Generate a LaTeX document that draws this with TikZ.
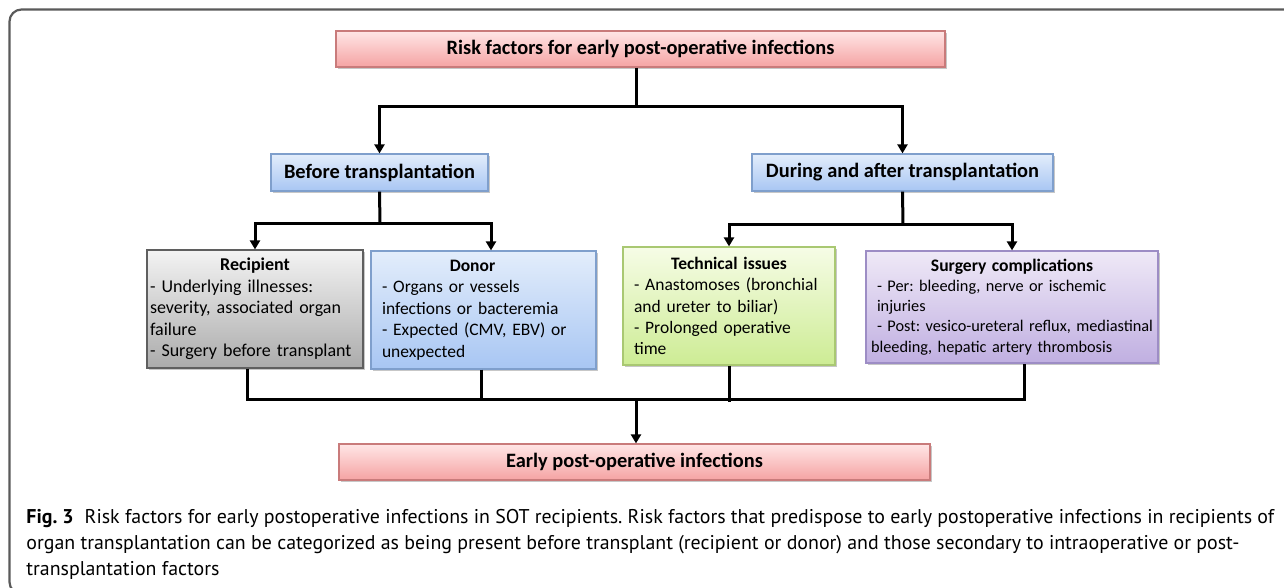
\documentclass[tikz,border=0pt]{standalone}
\usepackage{fontspec}
\setmainfont{Carlito}
\newfontfamily\capfont{PT Sans}
\usetikzlibrary{arrows.meta,shadows}
\definecolor{pinkT}{HTML}{FFE6E6}
\definecolor{pinkB}{HTML}{F5A3A3}
\definecolor{pinkD}{HTML}{C97B7B}
\definecolor{blueT}{HTML}{E3EDFB}
\definecolor{blueB}{HTML}{A8C6F3}
\definecolor{blueD}{HTML}{7F9FCC}
\definecolor{grayT}{HTML}{F3F3F3}
\definecolor{grayB}{HTML}{ABABAB}
\definecolor{grayD}{HTML}{5F5F5F}
\definecolor{greenT}{HTML}{F6FCE6}
\definecolor{greenB}{HTML}{CDEC94}
\definecolor{greenD}{HTML}{A9C872}
\definecolor{purpT}{HTML}{EFE9F7}
\definecolor{purpB}{HTML}{C0AFE1}
\definecolor{purpD}{HTML}{9D8DC5}
\definecolor{frameC}{HTML}{5A5A5A}
\begin{document}
\frenchspacing
\hyphenpenalty=10000
\exhyphenpenalty=10000
\begin{tikzpicture}[x=0.5pt,y=-0.5pt,
  box/.style={draw, line width=0.6pt, inner sep=0pt,
    drop shadow={shadow xshift=1pt, shadow yshift=-1pt, fill=black, opacity=0.22}},
  titlebox/.style={box, font=\fontsize{10.2pt}{12pt}\selectfont\bfseries},
  listbox/.style={box, align=left, anchor=center},
  pinkbox/.style={titlebox, draw=pinkD, top color=pinkT, bottom color=pinkB},
  bluebox/.style={titlebox, draw=blueD, top color=blueT, bottom color=blueB},
  link/.style={line width=1.5pt, draw=black},
  arrow/.style={link, -{Triangle[width=5pt,length=4.5pt]}}
]
\useasboundingbox (0,0) rectangle (1284,588);
\fill[white] (0,0) rectangle (1284,588);
% frame
\draw[frameC, line width=1.1pt, rounded corners=6pt] (1300,9.5) -- (9.5,9.5) -- (9.5,594) -- (200,594);

% title boxes
\node[pinkbox, minimum width=304.5pt, minimum height=18pt] (top) at (640.5,49) {Risk factors for early post-operative infections};
\node[bluebox, minimum width=108.5pt, minimum height=18.5pt] (before) at (379.5,172.5) {Before transplantation};
\node[bluebox, minimum width=150.5pt, minimum height=18.5pt] (during) at (902.5,172.5) {During and after transplantation};
\node[pinkbox, minimum width=295.5pt, minimum height=18pt] (early) at (634.5,462) {Early post-operative infections};

% list boxes
\node[listbox, draw=grayD, top color=grayT, bottom color=grayB, font=\fontsize{9pt}{10.75pt}\selectfont,
  inner xsep=1.5pt, text width=105pt, minimum height=59pt] (recipient) at (255,309)
  {\makebox[\linewidth][c]{\bfseries Recipient}\\- Underlying illnesses:\\severity, associated organ\\failure\\- Surgery before transplant};
\node[listbox, draw=blueD, top color=blueT, bottom color=blueB, font=\fontsize{8.75pt}{10.75pt}\selectfont,
  inner xsep=5.5pt, text width=101.5pt, minimum height=59pt] (donor) at (483.5,310)
  {\makebox[\linewidth][c]{\hspace{-11pt}\bfseries Donor}\\- Organs or vessels\\infections or bacteremia\\- Expected (CMV, EBV) or\\unexpected};
\node[listbox, draw=greenD, top color=greenT, bottom color=greenB, font=\fontsize{8.75pt}{10.6pt}\selectfont,
  inner xsep=5.5pt, text width=95pt, minimum height=59pt] (technical) at (729,306)
  {\makebox[\linewidth][c]{\bfseries Technical issues}\\- Anastomoses (bronchial\\and ureter to biliar)\\- Prolonged operative\\time};
\node[listbox, draw=purpD, top color=purpT, bottom color=purpB, font=\fontsize{8.15pt}{10.1pt}\selectfont,
  inner xsep=2.5pt, text width=141pt, minimum height=56pt] (surgery) at (1012,307)
  {\leftskip=3pt\makebox[\dimexpr\linewidth-6pt][c]{\fontsize{8.8pt}{10.1pt}\selectfont\bfseries Surgery complications}\\- Per: bleeding, nerve or ischemic\\injuries\\- Post: vesico-ureteral reflux, mediastinal\\bleeding, hepatic artery thrombosis};

% connectors
\coordinate (jtop) at (636,107);
\draw[link] ([xshift=-2.25pt]top.south) -- (jtop);
\draw[arrow] (jtop) -| (before.north);
\draw[arrow] (jtop) -| (during.north);

\coordinate (jbef) at (380,224);
\draw[link] (before.south) -- (jbef);
\draw[arrow] (jbef) -| (recipient.north);
\draw[arrow] (jbef) -| ([xshift=3.75pt]donor.north);

\coordinate (jdur) at (903,225);
\draw[link] (during.south) -- (jdur);
\draw[arrow] (jdur) -| (technical.north);
\draw[arrow] (jdur) -| (surgery.north);

\coordinate (jbot) at (636,399);
\draw[link] ([xshift=-4pt]recipient.south) |- (jbot) -| ([xshift=6pt]surgery.south);
\draw[link] ([xshift=-1.25pt]donor.south) -- ([xshift=-1.25pt]donor.south |- jbot);
\draw[link] (technical.south) -- ([yshift=-1.5pt]technical.south |- jbot);
\draw[arrow] (jbot) -- (jbot |- early.north);

% caption
\node[anchor=base west, inner sep=0pt, align=left,
  font=\capfont\fontsize{9.95pt}{13pt}\selectfont] (caption) at (26,575)
  {\textbf{Fig. 3}\hspace{0.55em}Risk factors for early postoperative infections in SOT recipients. Risk factors that predispose to early postoperative infections in recipients of\\
   organ transplantation can be categorized as being present before transplant (recipient or donor) and those secondary to intraoperative or post-\\
   transplantation factors};
\end{tikzpicture}
\end{document}
